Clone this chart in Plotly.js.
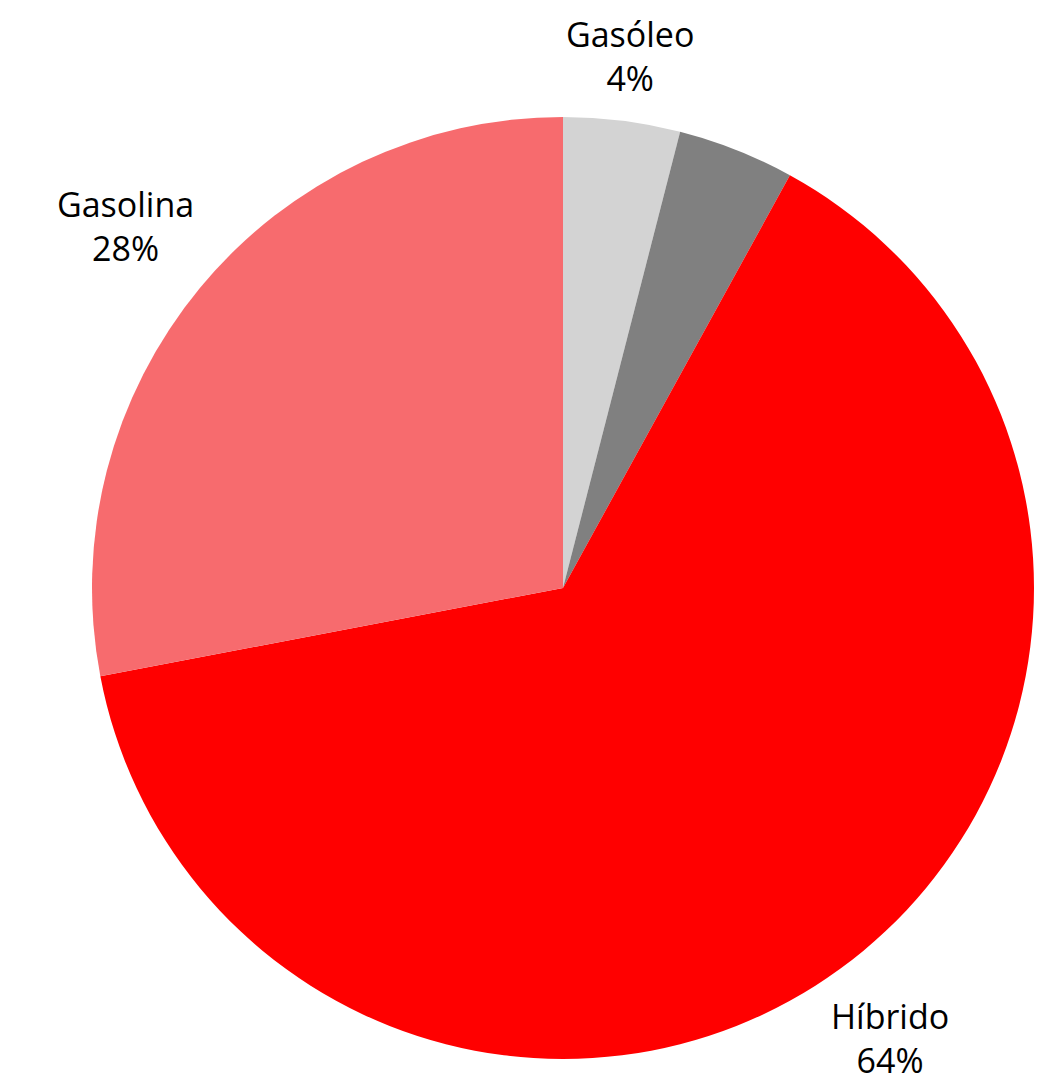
<!DOCTYPE html>
<html>
<head>
<meta charset="utf-8">
<script src="https://cdn.plot.ly/plotly-3.0.1.min.js"></script>
<style>html,body{margin:0;padding:0;background:#fff;}</style>
</head>
<body>
<div id="chart" style="width:1042px;height:1081px;"></div>
<script>
const labels = ["Gasóleo", "Elétrico", "Híbrido", "Gasolina"];
const values = [4, 4, 64, 28];
const showText = [true, false, true, true];
const colors = ["#d3d3d3", "#808080", "#ff0000", "#f76b6e"];

const FONT = "'Open Sans', 'Fira Sans', sans-serif";
const FSIZE = 34;
const W = 1042, H = 1081;
const M = {l: 92, r: 8, t: 117, b: 22};
const plotPx = Math.min(W - M.l - M.r, H - M.t - M.b);
const Rpx = plotPx / 2;

// measure label widths
const cv = document.createElement("canvas").getContext("2d");
cv.font = FSIZE + "px 'Open Sans'";

const total = values.reduce((a, b) => a + b, 0);
let cum = 0;
const annotations = [];
values.forEach((v, i) => {
  const mid = (cum + v / 2) / total * 2 * Math.PI;
  cum += v;
  if (!showText[i]) return;
  const pct = Math.round(v / total * 100) + "%";
  const w = Math.max(cv.measureText(labels[i]).width, cv.measureText(pct).width) + 6;
  const halfH = 41;
  const d = Rpx * 1.034 + Math.abs(Math.sin(mid)) * w / 2 + Math.abs(Math.cos(mid)) * halfH;
  annotations.push({
    xref: "paper", yref: "paper",
    x: 0.5 + d * Math.sin(mid) / plotPx,
    y: 0.5 + d * Math.cos(mid) / plotPx,
    xanchor: "center", yanchor: "middle",
    text: labels[i] + "<br>" + pct,
    showarrow: false,
    align: "center",
    font: {family: FONT, size: FSIZE, color: "#000"}
  });
});

Plotly.newPlot("chart", [{
  type: "pie",
  labels: labels,
  values: values,
  textinfo: "none",
  sort: false,
  direction: "clockwise",
  rotation: 0,
  marker: {colors: colors, line: {width: 0}},
  showlegend: false
}], {
  width: W,
  height: H,
  margin: M,
  paper_bgcolor: "#fff",
  showlegend: false,
  annotations: annotations
}, {displayModeBar: false, staticPlot: true});
</script>
</body>
</html>
